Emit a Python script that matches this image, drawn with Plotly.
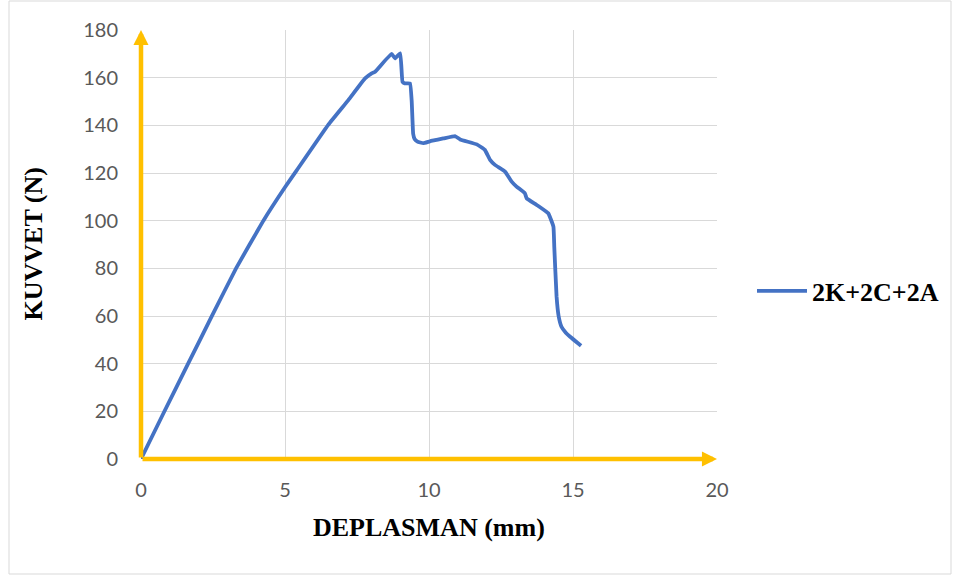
import plotly.graph_objects as go

# Data
deplasman = [0, 0.78, 1.64, 2.45, 3.3, 4.25, 5.0, 5.4, 6.5, 7.2, 7.78, 8.01, 8.13,
             8.7, 8.82, 9.0, 9.08, 9.16, 9.34, 9.4, 9.45, 9.5, 9.6, 9.8, 10.03, 10.5,
             10.9, 11.08, 11.66, 11.94, 12.12, 12.29, 12.64, 12.87, 13.04, 13.33,
             13.39, 13.74, 14.14, 14.32, 14.35, 14.43, 14.5, 14.6, 14.75, 14.9, 15.28]
kuvvet = [0, 19.2, 40.1, 59.7, 80, 100, 114, 121, 140.2, 150.6, 159.7, 161.8, 162.5,
          170, 168.1, 170.2, 158.3, 157.6, 157.6, 150, 136.5, 134.3, 133.2, 132.5, 133.3, 134.5,
          135.5, 134.1, 132, 129.7, 125.5, 123.4, 120.6, 116.4, 114.3, 111.5,
          109.4, 106.6, 103.1, 97.5, 89, 68.1, 60, 55.5, 53, 51.3, 47.5]
series_name = "2K+2C+2A"
x_ticks = [0, 5, 10, 15, 20]
y_ticks = [0, 20, 40, 60, 80, 100, 120, 140, 160, 180]
x_title = "DEPLASMAN (mm)"
y_title = "KUVVET (N)"

W, H = 960, 577
L, R, T, B = 141, 243, 30, 118
PW, PH = W - L - R, H - T - B

def px_x(p):
    return (p - L) / PW

def px_y(p):
    return (H - B - p) / PH

fig = go.Figure()
fig.add_trace(go.Scatter(
    x=deplasman, y=kuvvet, mode="lines", name="<b>" + series_name + "</b>",
    line=dict(color="#4472C4", width=3.8, shape="spline", smoothing=0.3),
))

axis_font = dict(family="Lato, Carlito, sans-serif", size=20, color="#595959")
grid = "#D9D9D9"

fig.update_xaxes(range=[0, 20], tickvals=x_ticks, showgrid=True, gridcolor=grid,
                 gridwidth=1, zeroline=False, showline=False, tickfont=axis_font,
                 ticklabelstandoff=17, fixedrange=True)
fig.update_yaxes(range=[0, 180], tickvals=y_ticks, showgrid=True, gridcolor=grid,
                 gridwidth=1, zeroline=False, showline=False, tickfont=axis_font,
                 ticklabelstandoff=22, fixedrange=True)

title_font = dict(family="Liberation Serif, Times New Roman, serif", size=26,
                  color="#000000")

annotations = [
    dict(x=20, y=0, ax=0, ay=0, xref="x", yref="y", axref="x", ayref="y",
         text="", showarrow=True, arrowhead=2, arrowsize=0.67, arrowwidth=4.5,
         arrowcolor="#FFC000", standoff=0, startstandoff=0),
    dict(x=0, y=180, ax=0, ay=0, xref="x", yref="y", axref="x", ayref="y",
         text="", showarrow=True, arrowhead=2, arrowsize=0.67, arrowwidth=4.5,
         arrowcolor="#FFC000", standoff=0, startstandoff=0),
    dict(x=0.5, y=px_y(527), xref="paper", yref="paper", text="<b>" + x_title + "</b>",
         showarrow=False, font=title_font, xanchor="center", yanchor="middle"),
    dict(x=px_x(33), y=0.5, xref="paper", yref="paper", text="<b>" + y_title + "</b>",
         showarrow=False, font=title_font, textangle=-90,
         xanchor="center", yanchor="middle"),
]

fig.update_layout(
    width=W, height=H,
    margin=dict(l=L, r=R, t=T, b=B, pad=0),
    paper_bgcolor="white", plot_bgcolor="white",
    showlegend=True,
    legend=dict(x=px_x(752), y=px_y(291), xanchor="left", yanchor="middle",
                font=dict(family="Liberation Serif, Times New Roman, serif",
                          size=26, color="#000000"),
                bgcolor="rgba(0,0,0,0)", itemwidth=50),
    annotations=annotations,
    shapes=[dict(type="rect", xref="paper", yref="paper",
                 x0=px_x(9), x1=px_x(951), y0=px_y(574), y1=px_y(1),
                 line=dict(color="#D9D9D9", width=1), layer="below")],
)

fig.write_html("out.html")
